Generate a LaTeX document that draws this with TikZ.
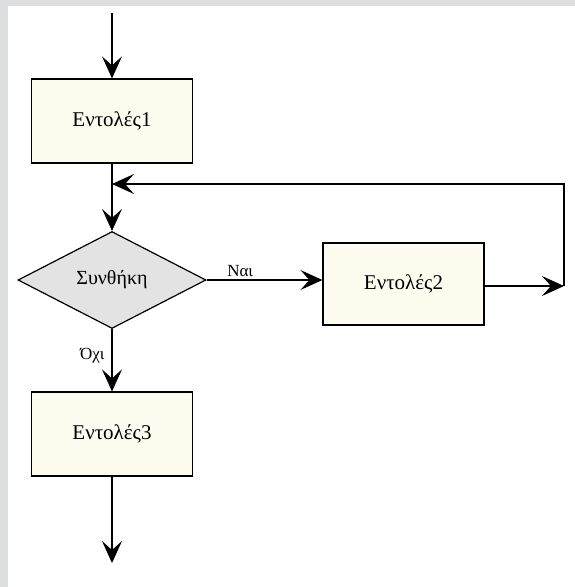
\documentclass[tikz,border=0pt]{standalone}
\usepackage{fontspec}
\setmainfont{Liberation Serif}
\usetikzlibrary{shapes.geometric,arrows.meta}
\definecolor{boxcream}{RGB}{254,251,239}
\definecolor{condgrey}{RGB}{227,227,227}
\definecolor{framegrey}{RGB}{221,222,224}

\begin{document}
\begin{tikzpicture}[x=1pt,y=-1pt,
    block/.style={draw,line width=1.2pt,fill=boxcream,minimum width=161pt,minimum height=84pt,font=\fontsize{21}{24}\selectfont},
    cond/.style={diamond,draw,line width=1.2pt,fill=condgrey,inner sep=0pt,minimum width=188pt,minimum height=97pt,font=\fontsize{20}{23}\selectfont},
    flow/.style={line width=1.2pt,-{Stealth[length=22pt,width=20pt,inset=9pt]}},
    tag/.style={font=\fontsize{17}{20}\selectfont}]
    % frame
    \fill[framegrey] (0,0) rectangle (8,587);
    \fill[framegrey] (0,0) rectangle (575,6);
    \useasboundingbox (0,0) rectangle (575,587);

    \node[block] (e1) at (112,121) {Εντολές1};
    \node[cond] (c1) at (112,280) {Συνθήκη};
    \node[block,minimum height=82pt] (e2) at (403.5,284) {Εντολές2};
    \node[block] (e3) at (112,434) {Εντολές3};

    \coordinate (start) at (112,13);
    \coordinate (stop) at (112,563);
    \coordinate (rt) at (564,286);
    \coordinate (rtop) at (564,184);
    \coordinate (join) at (112,184);

    \draw[flow] (start) -- (e1);
    \draw[flow] (e1) -- (c1);
    \draw[flow] (c1) -- node[tag,pos=.29,above,inner sep=3pt] {Ναι} (c1 -| e2.west);
    \draw[flow] (e2.east |- rt) -- (rt);
    \draw[flow] (rt) -- (rtop) -- (join);
    \draw[flow] (c1) -- node[tag,pos=.42,left,inner sep=7pt] {Όχι} (e3);
    \draw[flow] (e3) -- (stop);
\end{tikzpicture}
\end{document}
